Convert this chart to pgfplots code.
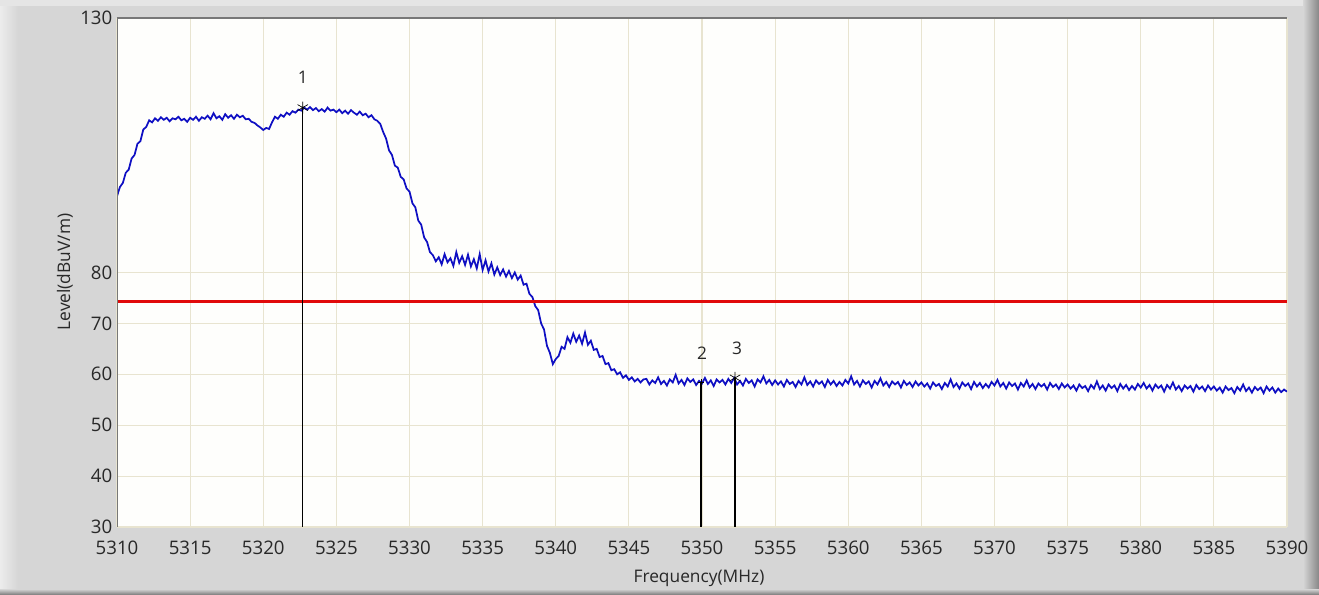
\documentclass[border=0pt]{standalone}
\usepackage{fontspec}
\setmainfont{Open Sans}
\usepackage{pgfplots}
\pgfplotsset{compat=1.18}
\definecolor{bg}{RGB}{214,214,214}
\definecolor{bgl}{RGB}{236,236,236}
\definecolor{bgd}{RGB}{135,135,135}
\definecolor{gridc}{RGB}{232,228,208}
\definecolor{plotbg}{RGB}{254,254,252}
\definecolor{trace}{RGB}{15,15,195}
\definecolor{txt}{RGB}{40,40,40}
\definecolor{axc}{RGB}{120,120,120}
\definecolor{limc}{RGB}{225,10,10}
\begin{document}
\begin{tikzpicture}
\path[use as bounding box] (0pt,0pt) rectangle (989.25pt,445.5pt);
\fill[bg] (0pt,0pt) rectangle (989.25pt,445.5pt);
\shade[left color=bgl, right color=bg] (0pt,0pt) rectangle (13.5pt,445.5pt);
\fill[bgl!70!bg] (0pt,441pt) rectangle (989.25pt,445.5pt);
\shade[left color=bg, right color=bgd] (977.25pt,0pt) rectangle (989.25pt,445.5pt);
\shade[top color=bg, bottom color=bgd] (0pt,0pt) rectangle (989.25pt,3.75pt);
\begin{axis}[
  at={(87.75pt,50.25pt)}, anchor=south west,
  scale only axis, width=877.5pt, height=381.75pt,
  xmin=5310, xmax=5390, ymin=30, ymax=130,
  xtick={5310,5315,...,5390},
  ytick={30,40,50,60,70,80,130},
  major tick length=0pt,
  axis line style={draw=none},
  axis background/.style={fill=plotbg},
  grid=major,
  major grid style={gridc, line width=0.8pt},
  tick label style={font=\fontsize{14}{16}\selectfont, text=txt,
    /pgf/number format/assume math mode=true,
    /pgf/number format/1000 sep={}},
  xticklabel style={yshift=-7pt},
]
\addplot[trace, line width=1.3pt] coordinates {
(5310.0,95.0) (5310.2,96.8) (5310.4,97.6) (5310.6,99.6) (5310.8,100.2) (5311.0,102.4) (5311.2,103.1) (5311.4,105.3) (5311.6,105.8) (5311.8,108.1)
(5312.0,108.6) (5312.2,109.9) (5312.4,109.5) (5312.6,110.3) (5312.8,109.8) (5313.0,110.5) (5313.2,110.0) (5313.4,110.4) (5313.6,109.7) (5313.8,110.3)
(5314.0,110.1) (5314.2,110.6) (5314.4,109.9) (5314.6,110.2) (5314.8,109.6) (5315.0,110.4) (5315.2,110.0) (5315.4,110.6) (5315.6,109.8) (5315.8,110.5)
(5316.0,110.2) (5316.2,110.8) (5316.4,110.1) (5316.6,111.3) (5316.8,110.3) (5317.0,110.7) (5317.2,110.0) (5317.4,111.1) (5317.6,110.4) (5317.8,110.9)
(5318.0,110.2) (5318.2,111.0) (5318.4,110.5) (5318.6,110.8) (5318.8,110.1) (5319.0,110.2) (5319.2,109.6) (5319.4,109.4) (5319.6,108.9) (5319.8,108.5)
(5320.0,108.0) (5320.2,108.4) (5320.4,108.2) (5320.6,109.5) (5320.8,110.6) (5321.0,110.2) (5321.2,111.0) (5321.4,110.6) (5321.6,111.4) (5321.8,111.0)
(5322.0,111.7) (5322.2,111.4) (5322.4,112.0) (5322.6,111.8) (5322.8,112.4) (5323.0,112.0) (5323.2,112.5) (5323.4,111.9) (5323.6,112.3) (5323.8,111.7)
(5324.0,112.1) (5324.2,111.6) (5324.4,112.4) (5324.6,111.8) (5324.8,112.0) (5325.0,111.5) (5325.2,112.0) (5325.4,111.3) (5325.6,111.8) (5325.8,111.2)
(5326.0,111.9) (5326.2,111.4) (5326.4,111.0) (5326.6,111.6) (5326.8,110.9) (5327.0,111.2) (5327.2,110.5) (5327.4,110.9) (5327.6,110.1) (5327.8,109.8)
(5328.0,109.2) (5328.2,107.6) (5328.4,106.3) (5328.6,104.0) (5328.8,103.1) (5329.0,101.0) (5329.2,100.6) (5329.4,98.8) (5329.6,98.3) (5329.8,96.5)
(5330.0,95.9) (5330.2,93.6) (5330.4,92.8) (5330.6,90.2) (5330.8,89.4) (5331.0,86.9) (5331.2,86.0) (5331.4,84.0) (5331.6,83.4) (5331.8,82.2)
(5332.0,83.0) (5332.2,81.6) (5332.4,83.6) (5332.6,82.0) (5332.8,82.8) (5333.0,81.3) (5333.2,84.0) (5333.4,81.9) (5333.6,83.2) (5333.8,81.5)
(5334.0,83.5) (5334.2,81.2) (5334.4,82.6) (5334.6,80.8) (5334.8,83.6) (5335.0,80.5) (5335.2,82.4) (5335.4,80.2) (5335.6,81.8) (5335.8,79.6)
(5336.0,81.0) (5336.2,79.5) (5336.4,80.6) (5336.6,79.2) (5336.8,80.3) (5337.0,78.9) (5337.2,80.0) (5337.4,78.6) (5337.6,79.4) (5337.8,77.6)
(5338.0,77.8) (5338.2,75.8) (5338.4,75.2) (5338.6,73.4) (5338.8,72.6) (5339.0,70.0) (5339.2,68.8) (5339.4,65.6) (5339.6,64.2) (5339.8,62.0)
(5340.0,63.0) (5340.2,63.6) (5340.4,65.4) (5340.6,65.0) (5340.8,67.3) (5341.0,66.2) (5341.2,68.0) (5341.4,66.4) (5341.6,67.6) (5341.8,66.0)
(5342.0,68.2) (5342.2,65.8) (5342.4,66.6) (5342.6,64.8) (5342.8,65.0) (5343.0,63.4) (5343.2,63.6) (5343.4,62.0) (5343.6,62.2) (5343.8,60.8)
(5344.0,61.0) (5344.2,60.0) (5344.4,60.4) (5344.6,59.3) (5344.8,59.8) (5345.0,58.9) (5345.2,59.4) (5345.4,58.6) (5345.6,59.1) (5345.8,58.4)
(5346.0,59.0) (5346.2,59.1) (5346.4,58.0) (5346.6,58.8) (5346.8,58.3) (5347.0,59.4) (5347.2,58.1) (5347.4,58.7) (5347.6,57.8) (5347.8,59.0)
(5348.0,58.4) (5348.2,59.9) (5348.4,58.2) (5348.6,58.9) (5348.8,57.9) (5349.0,59.2) (5349.2,58.5) (5349.4,59.0) (5349.6,57.9) (5349.8,58.7)
(5350.0,58.2) (5350.2,59.3) (5350.4,58.1) (5350.6,58.8) (5350.8,57.7) (5351.0,59.0) (5351.2,58.4) (5351.4,58.9) (5351.6,58.0) (5351.8,59.1)
(5352.0,58.3) (5352.2,59.3) (5352.4,58.0) (5352.6,58.7) (5352.8,57.8) (5353.0,59.1) (5353.2,58.3) (5353.4,58.8) (5353.6,57.6) (5353.8,59.0)
(5354.0,58.4) (5354.2,59.6) (5354.4,58.2) (5354.6,58.9) (5354.8,57.9) (5355.0,58.8) (5355.2,58.0) (5355.4,58.6) (5355.6,57.6) (5355.8,58.9)
(5356.0,58.1) (5356.2,58.5) (5356.4,57.5) (5356.6,58.7) (5356.8,58.0) (5357.0,59.4) (5357.2,57.9) (5357.4,58.6) (5357.6,57.6) (5357.8,58.8)
(5358.0,58.1) (5358.2,58.6) (5358.4,57.5) (5358.6,58.9) (5358.8,58.0) (5359.0,58.7) (5359.2,57.7) (5359.4,58.5) (5359.6,57.8) (5359.8,58.9)
(5360.0,58.2) (5360.2,59.6) (5360.4,58.0) (5360.6,58.7) (5360.8,57.6) (5361.0,58.8) (5361.2,58.1) (5361.4,58.6) (5361.6,57.4) (5361.8,58.7)
(5362.0,58.0) (5362.2,59.2) (5362.4,57.8) (5362.6,58.5) (5362.8,57.5) (5363.0,58.6) (5363.2,58.0) (5363.4,58.5) (5363.6,57.4) (5363.8,58.7)
(5364.0,57.9) (5364.2,58.4) (5364.4,57.5) (5364.6,58.6) (5364.8,57.8) (5365.0,58.4) (5365.2,57.6) (5365.4,58.2) (5365.6,57.2) (5365.8,58.4)
(5366.0,57.7) (5366.2,58.1) (5366.4,57.1) (5366.6,58.3) (5366.8,57.6) (5367.0,59.0) (5367.2,57.5) (5367.4,58.2) (5367.6,57.2) (5367.8,58.4)
(5368.0,57.7) (5368.2,58.2) (5368.4,57.1) (5368.6,58.5) (5368.8,57.6) (5369.0,58.3) (5369.2,57.3) (5369.4,58.1) (5369.6,57.4) (5369.8,58.5)
(5370.0,57.8) (5370.2,58.9) (5370.4,57.6) (5370.6,58.3) (5370.8,57.2) (5371.0,58.4) (5371.2,57.7) (5371.4,58.2) (5371.6,57.0) (5371.8,58.3)
(5372.0,57.6) (5372.2,58.8) (5372.4,57.4) (5372.6,58.1) (5372.8,57.1) (5373.0,58.2) (5373.2,57.6) (5373.4,58.1) (5373.6,57.0) (5373.8,58.3)
(5374.0,57.5) (5374.2,58.0) (5374.4,57.1) (5374.6,58.2) (5374.8,57.4) (5375.0,58.0) (5375.2,57.2) (5375.4,57.8) (5375.6,56.8) (5375.8,58.0)
(5376.0,57.3) (5376.2,57.7) (5376.4,56.7) (5376.6,57.9) (5376.8,57.2) (5377.0,58.6) (5377.2,57.1) (5377.4,57.8) (5377.6,56.8) (5377.8,58.0)
(5378.0,57.3) (5378.2,57.8) (5378.4,56.7) (5378.6,58.1) (5378.8,57.2) (5379.0,57.9) (5379.2,56.9) (5379.4,57.7) (5379.6,57.0) (5379.8,58.1)
(5380.0,57.4) (5380.2,58.3) (5380.4,57.2) (5380.6,57.9) (5380.8,56.8) (5381.0,58.0) (5381.2,57.3) (5381.4,57.8) (5381.6,56.6) (5381.8,57.9)
(5382.0,57.2) (5382.2,58.4) (5382.4,57.0) (5382.6,57.7) (5382.8,56.7) (5383.0,57.8) (5383.2,57.2) (5383.4,57.7) (5383.6,56.6) (5383.8,57.9)
(5384.0,57.1) (5384.2,57.6) (5384.4,56.7) (5384.6,57.8) (5384.8,57.0) (5385.0,57.6) (5385.2,56.8) (5385.4,57.4) (5385.6,56.4) (5385.8,57.6)
(5386.0,56.9) (5386.2,57.3) (5386.4,56.3) (5386.6,57.5) (5386.8,56.8) (5387.0,58.0) (5387.2,56.7) (5387.4,57.4) (5387.6,56.4) (5387.8,57.5)
(5388.0,56.9) (5388.2,57.4) (5388.4,56.3) (5388.6,57.6) (5388.8,56.8) (5389.0,57.4) (5389.2,56.4) (5389.4,57.2) (5389.6,56.5) (5389.8,57.0)
(5390.0,56.6)
};
\addplot[limc, line width=2pt] coordinates {(5310,74.3) (5390,74.3)};
\addplot[black, line width=1.1pt] coordinates {(5322.7,112.4) (5322.7,30)};
\addplot[black, line width=1.1pt] coordinates {(5349.93,58.4) (5349.93,30)};
\addplot[black, line width=1.1pt] coordinates {(5352.26,59.3) (5352.26,30)};
\addplot[only marks, mark=asterisk, mark size=4.5pt, black, line width=0.5pt] coordinates {(5322.7,112.4) (5352.26,59.3)};
\addplot[only marks, mark=+, mark size=2.5pt, black, line width=0.5pt] coordinates {(5349.93,58.4)};
\node[text=txt, font=\fontsize{13}{15}\selectfont] at (axis cs:5322.7,112.4) [yshift=22.5pt] {1};
\node[text=txt, font=\fontsize{13}{15}\selectfont] at (axis cs:5350.0,58.4) [yshift=22pt] {2};
\node[text=txt, font=\fontsize{13}{15}\selectfont] at (axis cs:5352.4,59.3) [yshift=22.5pt] {3};
\draw[axc, line width=0.75pt] (rel axis cs:0,0) -- (rel axis cs:0,1);
\draw[axc, line width=1.5pt] (rel axis cs:0,1) -- (rel axis cs:1,1);
\end{axis}
\node[rotate=90, text=txt, font=\fontsize{13}{15}\selectfont] at (48.75pt,241.5pt) {Level(dBuV/m)};
\node[text=txt, font=\fontsize{13}{15}\selectfont] at (524.25pt,12pt) {Frequency(MHz)};
\end{tikzpicture}
\end{document}
